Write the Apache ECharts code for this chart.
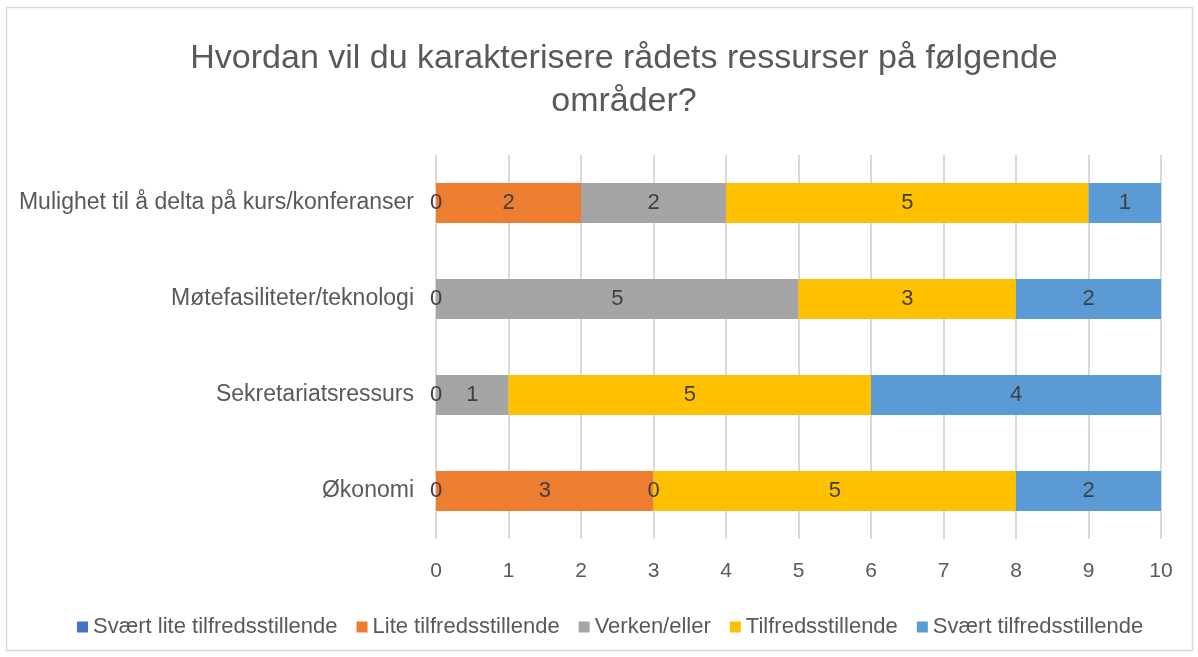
<!DOCTYPE html>
<html>
<head>
<meta charset="utf-8">
<script src="https://cdn.jsdelivr.net/npm/echarts@6/dist/echarts.min.js"></script>
<style>
  html, body { margin: 0; padding: 0; background: #fff; }
  #chart { width: 1198px; height: 657px; }
</style>
</head>
<body>
<div id="chart"></div>
<script>
// Areas (bottom to top, as drawn on the category axis)
const categories = [
  'Økonomi',
  'Sekretariatsressurs',
  'Møtefasiliteter/teknologi',
  'Mulighet til å delta på kurs/konferanser'
];
const seriesNames = [
  'Svært lite tilfredsstillende',
  'Lite tilfredsstillende',
  'Verken/eller',
  'Tilfredsstillende',
  'Svært tilfredsstillende'
];
// Answer counts per area, one array per rating
const sværtLite = [0, 0, 0, 0];
const lite = [3, null, null, 2];
const verken = [0, 1, 5, 2];
const tilfreds = [5, 5, 3, 5];
const sværtTilfreds = [2, 4, 2, 1];
const xTicks = { min: 0, max: 10, interval: 1 };

const colors = ['#4472C4', '#ED7D31', '#A5A5A5', '#FFC000', '#5B9BD5'];
const values = [sværtLite, lite, verken, tilfreds, sværtTilfreds];
const font = '"Liberation Sans", Arial, sans-serif';

const chart = echarts.init(document.getElementById('chart'), null, { renderer: 'canvas' });
chart.setOption({
  animation: false,
  color: colors,
  textStyle: { fontFamily: font },
  title: {
    text: 'Hvordan vil du karakterisere rådets ressurser på følgende\nområder?',
    left: 619,
    textAlign: 'center',
    top: 32,
    textStyle: { fontFamily: font, fontSize: 34, fontWeight: 'normal', color: '#595959', lineHeight: 43 }
  },
  graphic: [{
    type: 'rect',
    shape: { x: 6.5, y: 7.5, width: 1186, height: 643 },
    style: { fill: 'none', stroke: '#d9d9d9', lineWidth: 1.5 },
    silent: true
  }],
  legend: {
    bottom: 14,
    left: 72,
    icon: 'rect',
    itemWidth: 11,
    itemHeight: 11,
    itemGap: 19,
    textStyle: { fontFamily: font, fontSize: 22, color: '#595959' },
    data: seriesNames
  },
  grid: { left: 436, right: 37, top: 155, bottom: 118 },
  xAxis: {
    type: 'value',
    min: xTicks.min,
    max: xTicks.max,
    interval: xTicks.interval,
    axisLine: { show: false },
    axisTick: { show: false },
    splitLine: { lineStyle: { color: '#d9d9d9', width: 2 } },
    axisLabel: { margin: 22, fontSize: 21, color: '#595959', fontFamily: font }
  },
  yAxis: {
    type: 'category',
    data: categories,
    axisLine: { show: false },
    axisTick: { show: false },
    axisLabel: { margin: 22, fontSize: 23, color: '#595959', fontFamily: font }
  },
  series: seriesNames.map((name, i) => ({
    name,
    type: 'bar',
    stack: 'total',
    barWidth: 40,
    data: values[i],
    label: {
      show: true,
      position: 'inside',
      fontSize: 22,
      color: '#404040',
      fontFamily: font
    }
  }))
});
</script>
</body>
</html>
